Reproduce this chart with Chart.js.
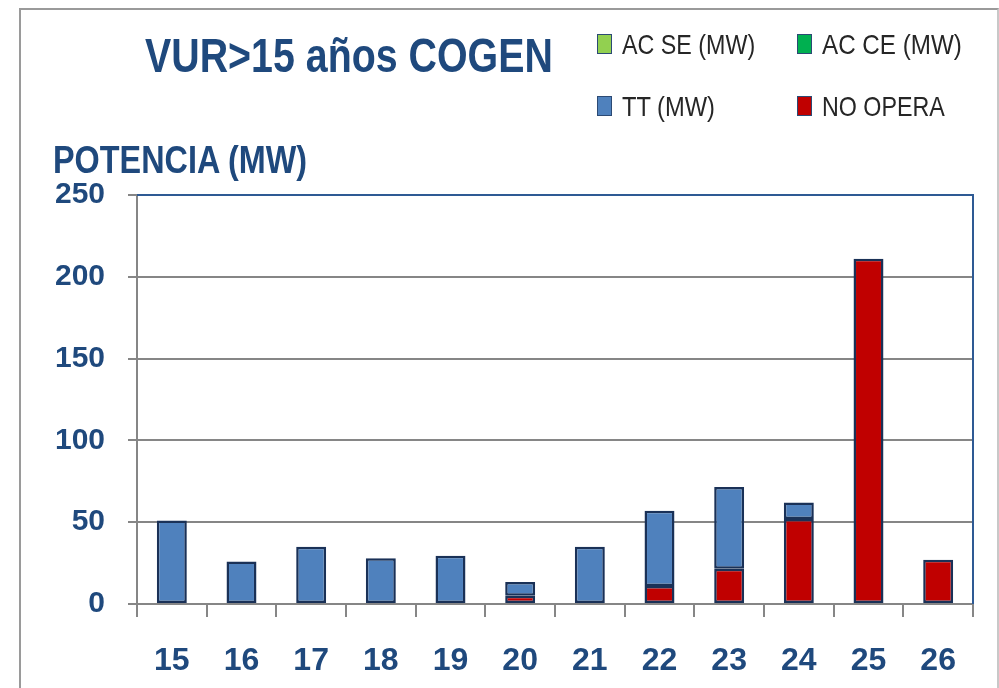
<!DOCTYPE html>
<html>
<head>
<meta charset="utf-8">
<script src="https://cdn.jsdelivr.net/npm/chart.js@4"></script>
<style>
  body { margin: 0; background: #fff; }
  #wrap { position: relative; width: 999px; height: 688px; overflow: hidden; background: #fff; }
  #frame { position: absolute; left: 19px; top: 8px; width: 976px; height: 700px; border: 2px solid #9a9a9a; border-right-color: #c8c8c8; }
  canvas { position: absolute; left: 0; top: 0; }
  .txt { position: absolute; font-family: 'Liberation Sans', Arial, sans-serif; line-height: 1; white-space: nowrap; transform-origin: 0 0; }
  #title { left: 145px; top: 31px; font-size: 49px; font-weight: bold; color: #1F497D; }
  #ytitle { left: 53px; top: 140px; font-size: 39px; font-weight: bold; color: #1F497D; }
  .leg { font-size: 28px; color: #262626; }
  .mark { position: absolute; width: 13px; height: 18px; border: 1.5px solid #2c4a74; }
</style>
</head>
<body>
<div id="wrap">
  <div id="frame"></div>
  <canvas id="chart" width="999" height="688"></canvas>
  <div id="title" class="txt">VUR&gt;15 años COGEN</div>
  <div id="ytitle" class="txt">POTENCIA (MW)</div>
  <div id="legend"></div>
</div>
<script>
// años
const years = ['15', '16', '17', '18', '19', '20', '21', '22', '23', '24', '25', '26'];

// MW por serie
const noOpera = [0, 0, 0, 0, 0, 5, 0, 11, 21.5, 52, 211, 27];
const tt = [51, 26, 35, 28, 29.5, 8.5, 35, 46, 50, 10, 0, 0];
const acCe = [0, 0, 0, 0, 0, 0, 0, 0, 0, 0, 0, 0];
const acSe = [0, 0, 0, 0, 0, 0, 0, 0, 0, 0, 0, 0];

const yTicks = [0, 50, 100, 150, 200, 250];

const FONT = "'Liberation Sans', Arial, sans-serif";
const DARK_BLUE = '#1F497D';
const BAR_EDGE = '#1a3157';

// the source font is a narrow one, so squeeze html text to the width it had
function fitText(el, width) {
  el.style.transform = 'scaleX(' + (width / el.offsetWidth) + ')';
}

// legend shown in the original order, stacking goes bottom -> top
const legendItems = [
  { label: 'AC SE (MW)', color: '#92D050', x: 597, y: 31, w: 133 },
  { label: 'AC CE (MW)', color: '#00B050', x: 797, y: 31, w: 140 },
  { label: 'TT (MW)', color: '#4F81BD', x: 597, y: 93, w: 93 },
  { label: 'NO OPERA', color: '#C00000', x: 797, y: 93, w: 123 },
];

const legendEl = document.getElementById('legend');
legendItems.forEach(item => {
  const m = document.createElement('div');
  m.className = 'mark';
  m.style.left = item.x + 'px';
  m.style.top = (item.y + 3) + 'px';
  m.style.background = item.color;
  legendEl.appendChild(m);

  const d = document.createElement('div');
  d.className = 'txt leg';
  d.style.left = (item.x + 25) + 'px';
  d.style.top = item.y + 'px';
  d.textContent = item.label;
  legendEl.appendChild(d);
  fitText(d, item.w);
});

fitText(document.getElementById('title'), 408);
fitText(document.getElementById('ytitle'), 254);

// blue border on the top and right sides of the plot area
const plotBorder = {
  id: 'plotBorder',
  afterDraw(chart) {
    const { ctx, chartArea: a } = chart;
    ctx.save();
    ctx.strokeStyle = '#2E5A94';
    ctx.lineWidth = 2;
    ctx.beginPath();
    ctx.moveTo(a.left, a.top);
    ctx.lineTo(a.right, a.top);
    ctx.lineTo(a.right, a.bottom);
    ctx.stroke();
    ctx.restore();
  }
};

const ctx = document.getElementById('chart').getContext('2d');
new Chart(ctx, {
  type: 'bar',
  data: {
    labels: years,
    datasets: [
      { label: 'NO OPERA', data: noOpera, backgroundColor: '#C00000', borderColor: BAR_EDGE, borderWidth: 2.5, borderSkipped: false },
      { label: 'TT (MW)', data: tt, backgroundColor: '#4F81BD', borderColor: BAR_EDGE, borderWidth: 2.5, borderSkipped: false },
      { label: 'AC CE (MW)', data: acCe, backgroundColor: '#00B050', borderWidth: 0 },
      { label: 'AC SE (MW)', data: acSe, backgroundColor: '#92D050', borderWidth: 0 },
    ],
  },
  options: {
    responsive: false,
    animation: false,
    layout: { padding: { top: 195, right: 26, left: 0, bottom: 0 } },
    datasets: { bar: { barPercentage: 0.43, categoryPercentage: 1 } },
    plugins: {
      legend: { display: false },
      tooltip: { enabled: false },
    },
    scales: {
      x: {
        stacked: true,
        afterFit: scale => { scale.height = 84; },
        border: { color: '#868686', width: 2 },
        grid: { drawOnChartArea: false, color: '#868686', lineWidth: 2, tickLength: 13 },
        ticks: { color: DARK_BLUE, padding: 25, font: { family: FONT, size: 32, weight: 'bold' } },
      },
      y: {
        stacked: true,
        min: 0,
        max: 250,
        afterFit: scale => { scale.width = 137; },
        afterBuildTicks: scale => { scale.ticks = yTicks.map(v => ({ value: v })); },
        border: { color: '#868686', width: 2 },
        grid: { color: '#868686', lineWidth: 2, tickLength: 9 },
        ticks: { color: DARK_BLUE, padding: 23, font: { family: FONT, size: 30, weight: 'bold' } },
      },
    },
  },
  plugins: [plotBorder],
});
</script>
</body>
</html>
